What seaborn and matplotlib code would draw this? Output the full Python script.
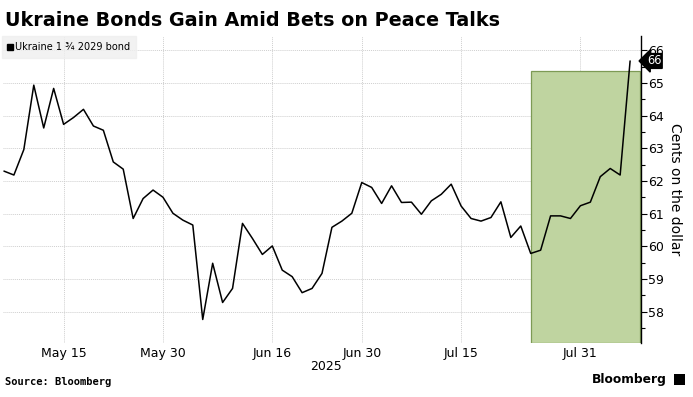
import pandas as pd
import matplotlib.pyplot as plt
import seaborn as sns
from matplotlib.lines import Line2D
from matplotlib.patches import Rectangle
import matplotlib.transforms as mtransforms
from matplotlib.ticker import MultipleLocator

sns.set_style("white")
plt.rcParams["font.family"] = ["DejaVu Sans"]
plt.rcParams["text.color"] = "black"
plt.rcParams["axes.labelcolor"] = "black"
plt.rcParams["xtick.color"] = "black"
plt.rcParams["ytick.color"] = "black"

# trading days (US holidays skipped)
holidays = ["2025-05-26", "2025-06-19", "2025-07-04"]
dates = pd.bdate_range("2025-05-07", "2025-08-07", freq="C", holidays=holidays)

price = [62.30, 62.18, 62.96, 64.93, 63.62, 64.83, 63.73, 63.94, 64.19, 63.68,
         63.55, 62.58, 62.36, 60.85, 61.46, 61.72, 61.50, 61.01, 60.80, 60.65,
         57.76, 59.48, 58.28, 58.71, 60.70, 60.24, 59.75, 60.01, 59.27, 59.07,
         58.58, 58.71, 59.17, 60.58, 60.77, 61.01, 61.95, 61.80, 61.31, 61.85,
         61.34, 61.35, 60.98, 61.39, 61.59, 61.90, 61.23, 60.85, 60.77, 60.88,
         61.36, 60.27, 60.62, 59.78, 59.88, 60.93, 60.93, 60.85, 61.24, 61.35,
         62.13, 62.38, 62.18, 65.67]

tick_dates = ["2025-05-15", "2025-05-30", "2025-06-16", "2025-06-30", "2025-07-15", "2025-07-31"]
tick_labels = ["May 15", "May 30", "Jun 16", "Jun 30", "Jul 15", "Jul 31"]
highlight_start = "2025-07-24"
highlight_top = 65.35

df = pd.DataFrame({"date": dates, "price": price})
df["day"] = range(len(df))
pos = {d: i for i, d in enumerate(df["date"])}

fig = plt.figure(figsize=(6.93, 3.97), dpi=100)
ax = fig.add_axes([0.005, 0.136, 0.92, 0.773])

x0 = pos[pd.Timestamp(highlight_start)]
ax.add_patch(Rectangle((x0, 57.04), 64.0 - x0, highlight_top - 57.04,
                       facecolor="#bfd4a0", edgecolor="#7d9a55", lw=0.9, zorder=1))

sns.lineplot(data=df, x="day", y="price", color="black", lw=1.1, ax=ax, zorder=3)

ax.set_xlim(-0.05, 64.1)
ax.set_ylim(57.04, 66.43)

ticks = [pos[pd.Timestamp(d)] for d in tick_dates]
ax.set_xticks(ticks)
ax.set_xticklabels(tick_labels, fontsize=9)
ax.tick_params(axis="x", length=0, pad=3)

ax.yaxis.tick_right()
ax.yaxis.set_label_position("right")
ax.set_yticks(range(58, 67))
ax.yaxis.set_minor_locator(MultipleLocator(0.5))
ax.tick_params(axis="y", which="major", length=4, width=0.8, labelsize=9, pad=1, direction="out")
ax.tick_params(axis="y", which="minor", length=3, width=0.8, right=True)
ax.set_ylabel("Cents on the dollar", rotation=-90, labelpad=13, fontsize=10)
ax.set_xlabel("")

ax.grid(True, which="major", color="#cfcfcf", ls=(0, (1, 1)), lw=0.7)
ax.axhline(57.04, color="#cfcfcf", ls=(0, (1, 1)), lw=0.7)
for s in ["left", "top", "bottom"]:
    ax.spines[s].set_visible(False)
ax.spines["right"].set_color("black")
ax.spines["right"].set_linewidth(1)

# last value tag
trans = mtransforms.blended_transform_factory(ax.transAxes, ax.transData)
ax.text(1.009, price[-1], f"{price[-1]:.0f}", transform=trans, color="white", fontsize=8.3,
        va="center", ha="left", zorder=5,
        bbox=dict(boxstyle="larrow,pad=0.08", fc="black", ec="black"))

handle = Line2D([], [], marker="s", color="black", ls="none", markersize=4.5)
leg = ax.legend([handle], ["Ukraine 1 ¾ 2029 bond"], loc="upper left", bbox_to_anchor=(-0.003, 1.0),
                frameon=True, fontsize=7, handlelength=0.5, handletextpad=0.3,
                borderpad=0.6, borderaxespad=0, fancybox=False)
leg.get_frame().set_facecolor("#efefef")
leg.get_frame().set_edgecolor("#efefef")

fig.text(0.007, 0.925, "Ukraine Bonds Gain Amid Bets on Peace Talks", fontsize=13.8,
         fontweight="bold", ha="left", va="bottom")
fig.text(0.47, 0.06, "2025", fontsize=9, ha="center", va="bottom")
fig.text(0.007, 0.025, "Source: Bloomberg", fontsize=7.5, fontweight="bold",
         family="DejaVu Sans Mono", ha="left", va="bottom")
fig.text(0.962, 0.027, "Bloomberg", fontsize=8.8, fontweight="bold", ha="right", va="bottom")
fig.patches.append(Rectangle((0.972, 0.03), 0.016, 0.028, transform=fig.transFigure,
                             facecolor="black", edgecolor="none"))

fig.savefig("out.png", dpi=100)
